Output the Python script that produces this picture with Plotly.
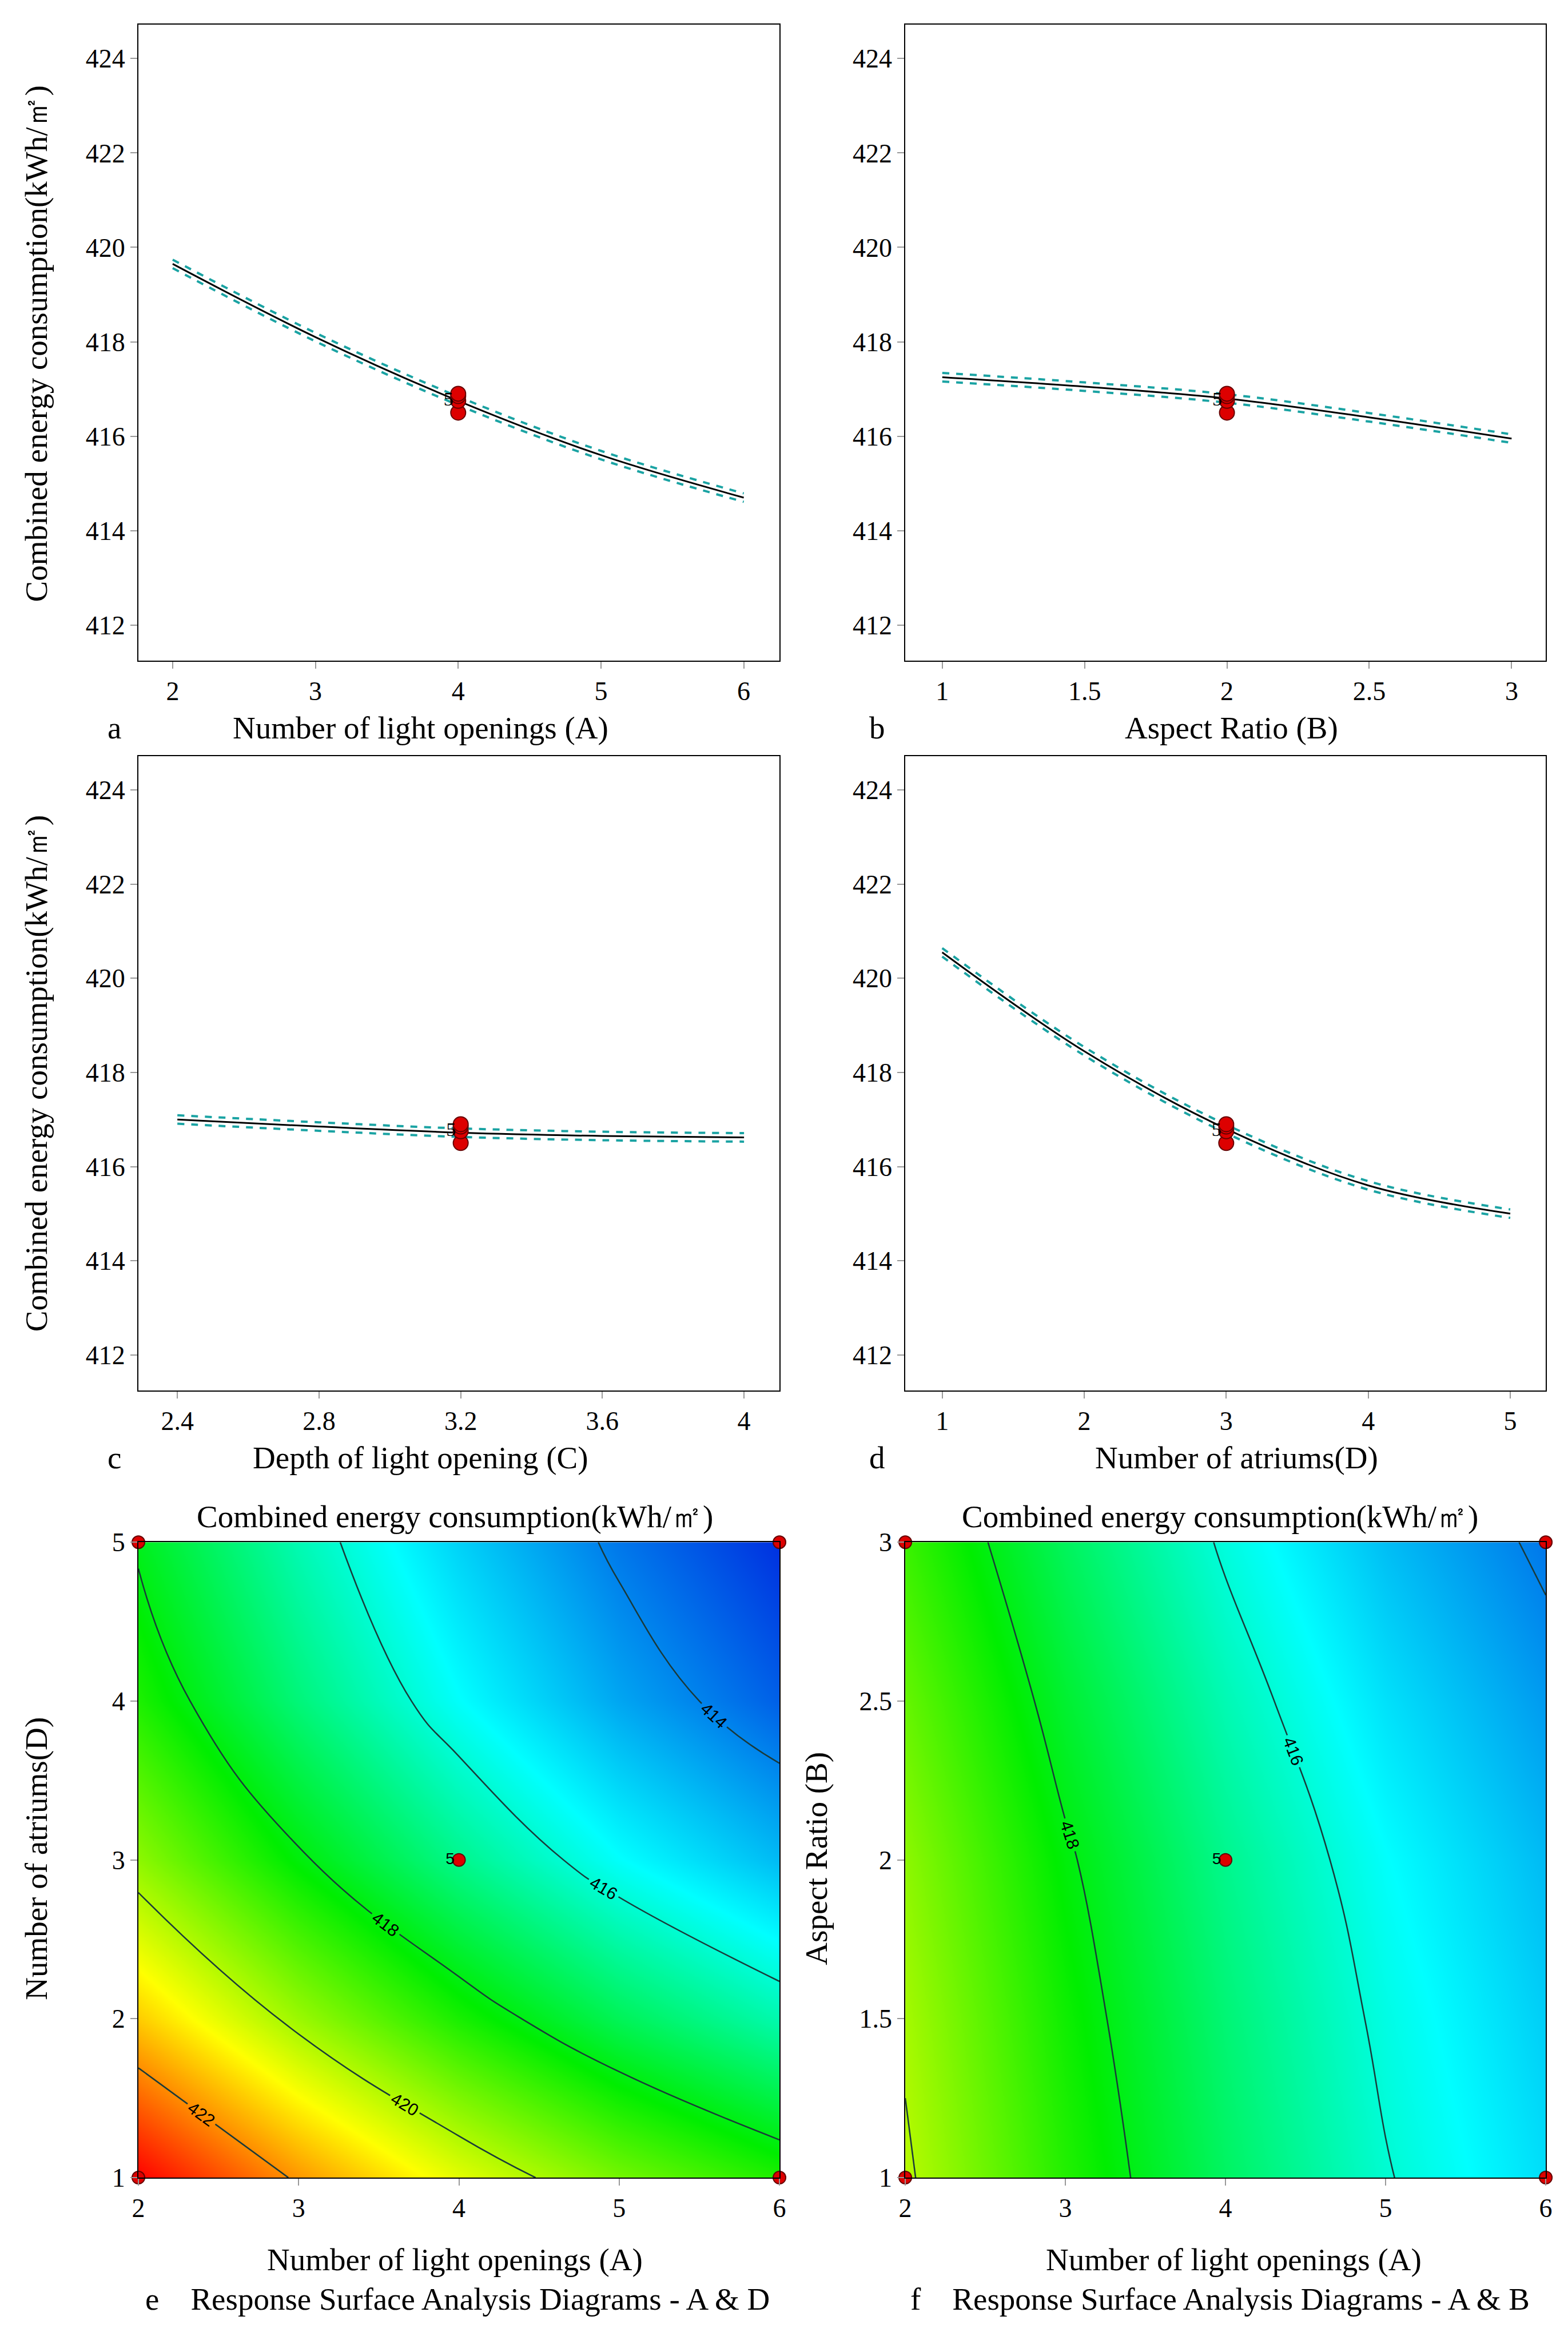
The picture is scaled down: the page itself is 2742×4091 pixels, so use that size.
import plotly.graph_objs as go
from plotly.subplots import make_subplots

# one-factor effect curves (kWh/m2)
a_x = [2, 3, 4, 5, 6]
a_y = [419.65, 418.1, 416.75, 415.6, 414.7]
b_x = [1, 1.5, 2, 2.5, 3]
b_y = [417.25, 417.05, 416.8, 416.4, 415.95]
c_x = [2.4, 2.8, 3.2, 3.6, 4.0]
c_y = [417.0, 416.85, 416.72, 416.65, 416.62]
d_x = [1, 2, 3, 4, 5]
d_y = [420.55, 418.45, 416.8, 415.6, 415.0]
ci = 0.09

# centre design points
pts_y = [416.5, 416.75, 416.85, 416.9]

# response surfaces
e_A = [2, 3, 4, 5, 6]
e_D = [1, 2, 3, 4, 5]
e_z = [[423.45, 421.9, 420.55, 419.4, 418.5],
       [421.35, 419.8, 418.45, 417.3, 416.4],
       [419.65, 418.1, 416.75, 415.6, 414.7],
       [418.5, 416.95, 415.6, 414.45, 413.55],
       [417.9, 416.35, 415.0, 413.85, 412.95]]
f_A = [2, 3, 4, 5, 6]
f_B = [1, 1.5, 2, 2.5, 3]
f_z = [[420.1, 418.55, 417.2, 416.05, 415.15],
       [419.9, 418.35, 417.0, 415.85, 414.95],
       [419.65, 418.1, 416.75, 415.6, 414.7],
       [419.25, 417.7, 416.35, 415.2, 414.3],
       [418.8, 417.25, 415.9, 414.75, 413.85]]

W, H = 2720, 4070
OFF = 8
FONT = "Liberation Serif"
cscale = [[0, "#0030e0"], [0.25, "#00ffff"], [0.5, "#00ee00"], [0.75, "#ffff00"], [1, "#ff0000"]]


def px(x):
    return (x - OFF) / W


def py(y):
    return 1 - (y - OFF) / H


fig = make_subplots(rows=3, cols=2)

panels = [(a_x, a_y, 4, 1, 1), (b_x, b_y, 2, 1, 2), (c_x, c_y, 3.2, 2, 1), (d_x, d_y, 3, 2, 2)]
for xs, ys, cx, r, c in panels:
    for off in (ci, -ci):
        fig.add_trace(go.Scatter(x=xs, y=[v + off for v in ys], mode="lines", line_shape="spline",
                                 line=dict(color="#1aa3a3", width=4, dash="dash"), showlegend=False), row=r, col=c)
    fig.add_trace(go.Scatter(x=xs, y=ys, mode="lines", line_shape="spline",
                             line=dict(color="black", width=3), showlegend=False), row=r, col=c)
    fig.add_trace(go.Scatter(x=[cx] * len(pts_y), y=pts_y, mode="markers",
                             marker=dict(color="#dd0000", size=26, line=dict(color="#660000", width=2)),
                             showlegend=False), row=r, col=c)
    fig.add_trace(go.Scatter(x=[cx], y=[416.75], mode="text", text=["5 "], textposition="middle left",
                             textfont=dict(size=34, color="black", family="Arial Black"), showlegend=False), row=r, col=c)

for xs, ys, zs, c in [(e_A, e_D, e_z, 1), (f_A, f_B, f_z, 2)]:
    fig.add_trace(go.Heatmap(x=xs, y=ys, z=zs, zsmooth="best", colorscale=cscale, zmin=412.95, zmax=423.45,
                             showscale=False), row=3, col=c)
    fig.add_trace(go.Contour(x=xs, y=ys, z=zs, contours=dict(coloring="none", start=414, end=422, size=2,
                                                             showlabels=True,
                                                             labelfont=dict(size=30, color="black", family="Arial")),
                             line=dict(color="#1a3a3a", width=2.5, smoothing=1.3), showscale=False), row=3, col=c)
    cxs = [xs[0], xs[-1], xs[0], xs[-1], xs[2]]
    cys = [ys[0], ys[0], ys[-1], ys[-1], ys[2]]
    fig.add_trace(go.Scatter(x=cxs, y=cys, mode="markers", cliponaxis=False,
                             marker=dict(color="#dd0000", size=22, line=dict(color="#660000", width=2)),
                             showlegend=False), row=3, col=c)
    fig.add_trace(go.Scatter(x=[xs[2]], y=[ys[2]], mode="text", text=["5 "], textposition="middle left",
                             textfont=dict(size=28, color="black", family="Arial"), showlegend=False), row=3, col=c)

# panel edges in reference pixels
xdom = [[px(232), px(1363)], [px(1585), px(2715)]]
ydom = [[py(1144), py(18)], [py(2436), py(1313)], [py(3830), py(2705)]]
xr = [[1.76, 6.25], [0.87, 3.12], [2.29, 4.1], [0.74, 5.25], [2, 6], [2, 6]]
xt = [[2, 3, 4, 5, 6], [1, 1.5, 2, 2.5, 3], [2.4, 2.8, 3.2, 3.6, 4], [1, 2, 3, 4, 5], [2, 3, 4, 5, 6], [2, 3, 4, 5, 6]]
ax = dict(showgrid=False, zeroline=False, showline=True, linecolor="black", linewidth=2, mirror=True,
          ticks="outside", ticklen=12, tickwidth=2, tickcolor="#999999",
          tickfont=dict(family=FONT, size=46, color="black"))
for i in range(6):
    r, c = divmod(i, 2)
    fig.update_xaxes(ax, domain=xdom[c], range=xr[i], tickvals=xt[i], row=r + 1, col=c + 1)
    if r < 2:
        fig.update_yaxes(ax, domain=ydom[r], range=[411.25, 424.72], tickvals=list(range(412, 425, 2)),
                         row=r + 1, col=c + 1)
fig.update_yaxes(ax, domain=ydom[2], range=[1, 5], tickvals=[1, 2, 3, 4, 5], row=3, col=1)
fig.update_yaxes(ax, domain=ydom[2], range=[1, 3], tickvals=[1, 1.5, 2, 2.5, 3], row=3, col=2)

ytitle = "Combined energy consumption(kWh/㎡)"
anns = [
    (730, 1263, "Number of light openings (A)"), (2160, 1263, "Aspect Ratio (B)"),
    (730, 2555, "Depth of light opening (C)"), (2170, 2555, "Number of atriums(D)"),
    (790, 3975, "Number of light openings (A)"), (2165, 3975, "Number of light openings (A)"),
    (190, 1263, "a"), (1535, 1263, "b"), (190, 2555, "c"), (1535, 2555, "d"),
    (795, 4045, "e    Response Surface Analysis Diagrams - A & D"),
    (2140, 4045, "f    Response Surface Analysis Diagrams - A & B"),
    (790, 2660, "Combined energy consumption(kWh/㎡)"),
    (2140, 2660, "Combined energy consumption(kWh/㎡)"),
]
annotations = [dict(x=px(x), y=py(y), xref="paper", yref="paper", text=t, showarrow=False,
                    font=dict(family=FONT, size=55, color="black"), xanchor="center", yanchor="middle")
               for x, y, t in anns]
side = [(52, 583, ytitle), (52, 1875, ytitle), (52, 3265, "Number of atriums(D)"),
        (1428, 3265, "Aspect Ratio (B)")]
for x, y, t in side:
    annotations.append(dict(x=px(x), y=py(y), xref="paper", yref="paper", text=t, showarrow=False, textangle=-90,
                            font=dict(family=FONT, size=55, color="black"), xanchor="center", yanchor="middle"))

fig.update_layout(width=W, height=H, margin=dict(l=0, r=0, t=0, b=0), plot_bgcolor="white",
                  paper_bgcolor="white", annotations=annotations, showlegend=False)

fig.write_html("out.html")
